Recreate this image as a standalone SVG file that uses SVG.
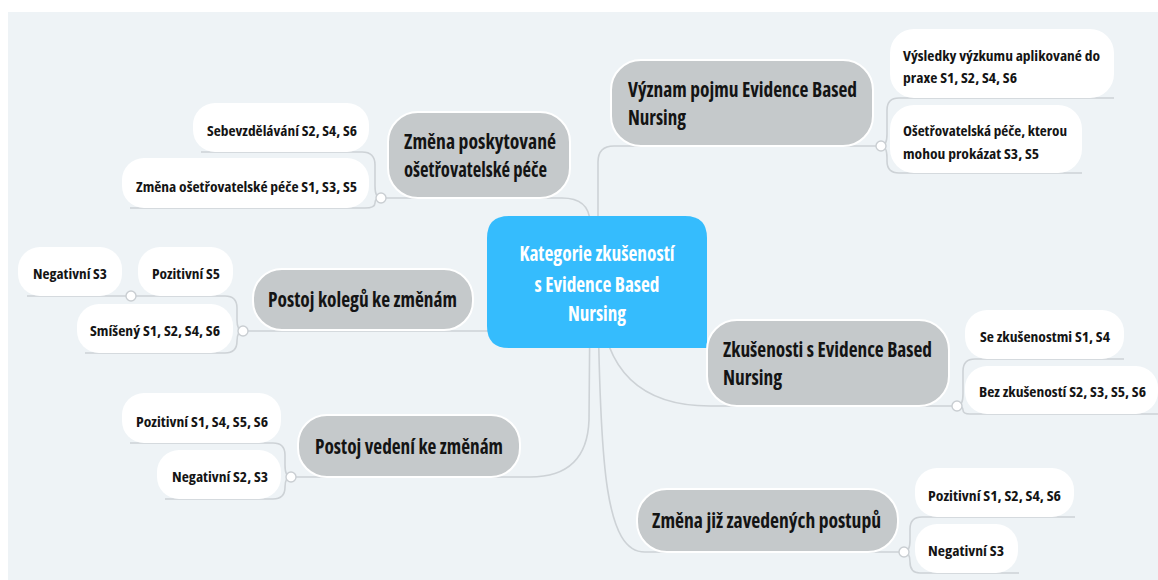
<svg xmlns="http://www.w3.org/2000/svg" width="1158" height="580" viewBox="0 0 1158 580">
<style>
.bg{fill:#EEF3F6}
.ln{fill:none;stroke:#CDD2D6;stroke-width:1.6}
.dot{fill:#FFFFFF;stroke:#C9CED2;stroke-width:1.4}
.main{fill:#C5C9CB;stroke:#FFFFFF;stroke-width:2}
.child{fill:#FFFFFF}
.center{fill:#35BCFD}
text{font-family:"Open Sans","Liberation Sans",sans-serif;font-weight:700;font-stretch:75%;fill:#141414}
.tm{font-size:21px}
.tc{font-size:15px}
.tw{font-size:21px;fill:#FFFFFF}
</style>
<rect class="bg" x="8" y="12" width="1150" height="568"/>
<g id="connectors">
<path class="ln" d="M598,282 L598,162 Q598,146 614,146 L876,146"/>
<path class="ln" d="M600,300 C604,370 640,406 710,406 L952,406"/>
<path class="ln" d="M598,300 C600,470 606,552 645,552 L899,552"/>
<path class="ln" d="M590,282 L590,222 Q589,198 562,198 L386,198"/>
<path class="ln" d="M597,331 L248,331"/>
<path class="ln" d="M590,300 L589,420 Q587,477 530,477 L296,477"/>
<path class="ln" d="M881,146 Q887,146 887,134 L887,110 Q887,98 899,98 L1114,98"/>
<path class="ln" d="M881,146 Q887,146 887,158 L887,161 Q887,173 899,173 L1082,173"/>
<path class="ln" d="M957,406 Q963,406 963,394 L963,371 Q963,359 975,359 L1124,359"/>
<path class="ln" d="M957,406 Q963,406 963,410 Q963,414 970,414 L1158,414"/>
<path class="ln" d="M904,552 Q910,552 910,540 L910,529 Q910,517 922,517 L1075,517"/>
<path class="ln" d="M904,552 Q910,552 910,562 Q910,573 920,573 L1019,573"/>
<path class="ln" d="M381,198 Q375,198 375,186 L375,165 Q375,152 362,152 L201,152"/>
<path class="ln" d="M381,198 Q375,198 375,203 Q375,208 365,208 L130,208"/>
<path class="ln" d="M243,331 Q237,331 237,320 L237,308 Q237,296 225,296 L136,296"/>
<path class="ln" d="M126,296 L27,296"/>
<path class="ln" d="M243,331 Q237,331 237,341 Q237,353 225,353 L85,353"/>
<path class="ln" d="M291,477 Q285,477 285,465 L285,455 Q285,443 273,443 L130,443"/>
<path class="ln" d="M291,477 Q285,477 285,487 Q285,499 273,499 L165,499"/>
</g>
<g id="center">
<path class="center" d="M509,216 H685 Q707,216 707,238 V348 H509 Q487,348 487,326 V238 Q487,216 509,216 Z"/>
<text class="tw" x="597" y="261" text-anchor="middle" textLength="155" lengthAdjust="spacingAndGlyphs">Kategorie zkušeností</text>
<text class="tw" x="597" y="292" text-anchor="middle" textLength="125" lengthAdjust="spacingAndGlyphs">s Evidence Based</text>
<text class="tw" x="597" y="321" text-anchor="middle" textLength="58" lengthAdjust="spacingAndGlyphs">Nursing</text>
</g>
<g id="m1">
<rect class="main" x="611" y="60" width="262" height="86" rx="30"/>
<text class="tm" x="628" y="97" textLength="229" lengthAdjust="spacingAndGlyphs">Význam pojmu Evidence Based</text>
<text class="tm" x="628" y="125" textLength="58" lengthAdjust="spacingAndGlyphs">Nursing</text>
</g>
<g id="m2">
<rect class="main" x="707" y="320" width="242" height="86" rx="30"/>
<text class="tm" x="723" y="357" textLength="209" lengthAdjust="spacingAndGlyphs">Zkušenosti s Evidence Based</text>
<text class="tm" x="723" y="385" textLength="59" lengthAdjust="spacingAndGlyphs">Nursing</text>
</g>
<g id="m3">
<rect class="main" x="637" y="489" width="261" height="63" rx="30"/>
<text class="tm" x="652" y="528" textLength="229" lengthAdjust="spacingAndGlyphs">Změna již zavedených postupů</text>
</g>
<g id="m4">
<rect class="main" x="388" y="112" width="182" height="86" rx="30"/>
<text class="tm" x="404" y="149" textLength="152" lengthAdjust="spacingAndGlyphs">Změna poskytované</text>
<text class="tm" x="404" y="177" textLength="143" lengthAdjust="spacingAndGlyphs">ošetřovatelské péče</text>
</g>
<g id="m5">
<rect class="main" x="253" y="269" width="220" height="61" rx="29"/>
<text class="tm" x="268" y="307" textLength="189" lengthAdjust="spacingAndGlyphs">Postoj kolegů ke změnám</text>
</g>
<g id="m6">
<rect class="main" x="298" y="415" width="222" height="62" rx="29"/>
<text class="tm" x="315" y="454" textLength="188" lengthAdjust="spacingAndGlyphs">Postoj vedení ke změnám</text>
</g>
<g id="r1a">
<rect class="child" x="890" y="29" width="224" height="69" rx="24"/>
<text class="tc" x="903" y="61" textLength="197" lengthAdjust="spacingAndGlyphs">Výsledky výzkumu aplikované do</text>
<text class="tc" x="903" y="83" textLength="114" lengthAdjust="spacingAndGlyphs">praxe S1, S2, S4, S6</text>
</g>
<g id="r1b">
<rect class="child" x="890" y="105" width="192" height="68" rx="24"/>
<text class="tc" x="903" y="136" textLength="164" lengthAdjust="spacingAndGlyphs">Ošetřovatelská péče, kterou</text>
<text class="tc" x="903" y="159" textLength="136" lengthAdjust="spacingAndGlyphs">mohou prokázat S3, S5</text>
</g>
<g id="r2a">
<rect class="child" x="965" y="310" width="159" height="49" rx="22"/>
<text class="tc" x="980" y="342" textLength="130" lengthAdjust="spacingAndGlyphs">Se zkušenostmi S1, S4</text>
</g>
<g id="r2b">
<rect class="child" x="965" y="366" width="193" height="48" rx="22"/>
<text class="tc" x="979" y="397" textLength="167" lengthAdjust="spacingAndGlyphs">Bez zkušeností S2, S3, S5, S6</text>
</g>
<g id="r3a">
<rect class="child" x="915" y="468" width="159" height="49" rx="22"/>
<text class="tc" x="928" y="501" textLength="133" lengthAdjust="spacingAndGlyphs">Pozitivní S1, S2, S4, S6</text>
</g>
<g id="r3b">
<rect class="child" x="915" y="524" width="103" height="49" rx="22"/>
<text class="tc" x="928" y="556" textLength="76" lengthAdjust="spacingAndGlyphs">Negativní S3</text>
</g>
<g id="l4a">
<rect class="child" x="193" y="103" width="176" height="49" rx="22"/>
<text class="tc" x="207" y="136" textLength="150" lengthAdjust="spacingAndGlyphs">Sebevzdělávání S2, S4, S6</text>
</g>
<g id="l4b">
<rect class="child" x="122" y="158" width="247" height="50" rx="22"/>
<text class="tc" x="136" y="192" textLength="221" lengthAdjust="spacingAndGlyphs">Změna ošetřovatelské péče S1, S3, S5</text>
</g>
<g id="l5a">
<rect class="child" x="138" y="247" width="95" height="49" rx="22"/>
<text class="tc" x="152" y="279" textLength="68" lengthAdjust="spacingAndGlyphs">Pozitivní S5</text>
</g>
<g id="l5b">
<rect class="child" x="18" y="247" width="104" height="49" rx="22"/>
<text class="tc" x="33" y="279" textLength="74" lengthAdjust="spacingAndGlyphs">Negativní S3</text>
</g>
<g id="l5c">
<rect class="child" x="77" y="304" width="156" height="49" rx="22"/>
<text class="tc" x="90" y="336" textLength="130" lengthAdjust="spacingAndGlyphs">Smíšený S1, S2, S4, S6</text>
</g>
<g id="l6a">
<rect class="child" x="122" y="393" width="159" height="50" rx="22"/>
<text class="tc" x="136" y="427" textLength="132" lengthAdjust="spacingAndGlyphs">Pozitivní S1, S4, S5, S6</text>
</g>
<g id="l6b">
<rect class="child" x="157" y="450" width="124" height="49" rx="22"/>
<text class="tc" x="172" y="482" textLength="96" lengthAdjust="spacingAndGlyphs">Negativní S2, S3</text>
</g>
<g id="junctions">
<circle class="dot" cx="881" cy="146" r="5"/>
<circle class="dot" cx="957" cy="406" r="5"/>
<circle class="dot" cx="904" cy="552" r="5"/>
<circle class="dot" cx="381" cy="198" r="5"/>
<circle class="dot" cx="243" cy="331" r="5"/>
<circle class="dot" cx="131" cy="296" r="5"/>
<circle class="dot" cx="291" cy="477" r="5"/>
</g>
</svg>
